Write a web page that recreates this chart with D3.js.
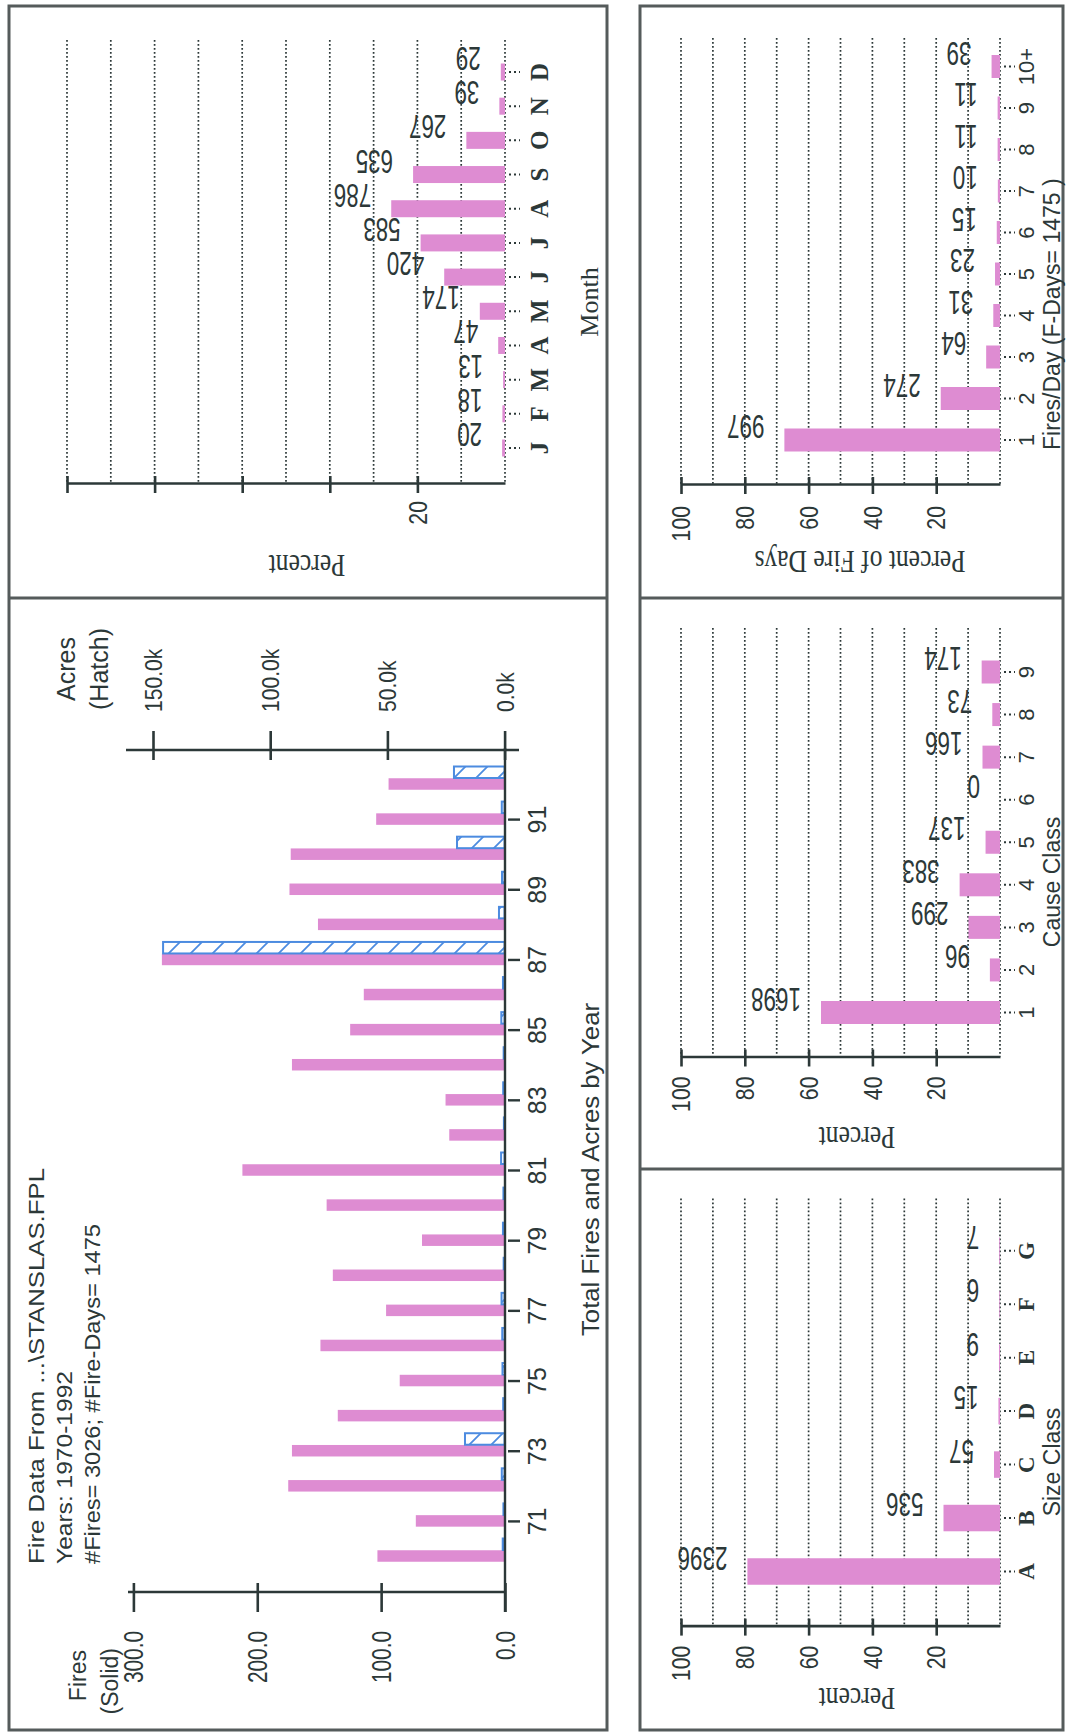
<!DOCTYPE html>
<html>
<head>
<meta charset="utf-8">
<script src="https://cdn.jsdelivr.net/npm/d3@7"></script>
<style>
  html, body { margin: 0; padding: 0; background: #ffffff; }
  svg { display: block; }
</style>
</head>
<body>
<svg id="chart" width="1066" height="1735"></svg>
<script>
// ---------------- DATA ----------------
const years      = [1970,1971,1972,1973,1974,1975,1976,1977,1978,1979,1980,1981,1982,1983,1984,1985,1986,1987,1988,1989,1990,1991,1992];
const firesByYear = [103,72,175,172,135,85,149,96,139,67,144,212,45,48,172,125,114,277,151,174,173,104,94];
const acresByYearK = [0.8,0.5,1.2,16.9,0.6,0.9,1.0,1.3,0.4,0.7,0.5,1.5,0.3,0.6,0.4,1.4,0.7,145.7,2.4,1.1,20.3,1.2,21.6];
const yearTickValues = [1971,1973,1975,1977,1979,1981,1983,1985,1987,1989,1991];
const yearTickLabels = ["71","73","75","77","79","81","83","85","87","89","91"];
const fireAxisTicks  = [0,100,200,300];
const acresAxisTicks = [0,50,100,150];

const monthLabels = ["J","F","M","A","M","J","J","A","S","O","N","D"];
const monthCounts = [20,18,13,47,174,420,583,786,635,267,39,29];

const fireDayLabels = ["1","2","3","4","5","6","7","8","9","10+"];
const fireDayCounts = [997,274,64,31,23,15,10,11,11,39];

const causeLabels = ["1","2","3","4","5","6","7","8","9"];
const causeCounts = [1698,96,299,383,137,0,166,73,174];

const sizeLabels = ["A","B","C","D","E","F","G"];
const sizeCounts = [2396,536,57,15,9,6,7];

const totalFires = 3026;
const totalFireDays = 1475;
const pctTicks = [20,40,60,80,100];
const pctGrid  = [0,10,20,30,40,50,60,70,80,90,100];

// ---------------- STYLE ----------------
const INK = "#2c3838", PINK = "#de8cd2", BLUE = "#4c8be0", BORDER = "#555b5b";
const SANS = "'Liberation Sans', Arial, sans-serif";
const SERIF = "'Liberation Serif', 'Times New Roman', serif";

const svg = d3.select("#chart");

// hatch pattern for acres bars
const defs = svg.append("defs");
defs.append("pattern").attr("id","hatch").attr("patternUnits","userSpaceOnUse")
  .attr("width",22).attr("height",22)
  .append("path").attr("d","M0,22 L22,0 M-3,3 L3,-3 M19,25 L25,19")
  .attr("stroke",BLUE).attr("stroke-width",1.8).attr("fill","none");

// ---------------- PANEL FRAMES ----------------
const frames = svg.append("g").attr("fill","none").attr("stroke",BORDER).attr("stroke-width",3);
frames.append("rect").attr("x",9).attr("y",6).attr("width",598).attr("height",1724);
frames.append("line").attr("x1",9).attr("x2",607).attr("y1",598).attr("y2",598);
frames.append("rect").attr("x",640).attr("y",6).attr("width",423).attr("height",1724);
frames.append("line").attr("x1",640).attr("x2",1063).attr("y1",598).attr("y2",598);
frames.append("line").attr("x1",640).attr("x2",1063).attr("y1",1169).attr("y2",1169);

// ---------------- PERCENT PANELS ----------------
function pctPanel(cfg){
  const x = d3.scaleLinear().domain([0,100]).range([cfg.x0, cfg.x100]);
  const y = d3.scalePoint().domain(d3.range(cfg.labels.length)).range([cfg.firstC, cfg.lastC]);
  const pct = d => d / cfg.total * 100;
  const g = svg.append("g");

  // dotted grid
  g.append("g").selectAll("line").data(pctGrid).join("line")
    .attr("x1",d=>x(d)).attr("x2",d=>x(d))
    .attr("y1",cfg.gridTop).attr("y2",cfg.axisY)
    .attr("stroke",INK).attr("stroke-width",1.7).attr("stroke-dasharray","1.7,2.3");

  // bars
  g.append("g").selectAll("rect").data(cfg.counts).join("rect")
    .attr("x",d=>x(pct(d))).attr("width",d=>Math.max(0, cfg.x0 - x(pct(d))))
    .attr("y",(d,i)=>y(i)-cfg.bw/2).attr("height",cfg.bw)
    .attr("fill",PINK);

  // category tick dots
  g.append("g").selectAll("line").data(cfg.counts).join("line")
    .attr("x1",cfg.x0+4).attr("x2",cfg.x0+15)
    .attr("y1",(d,i)=>y(i)).attr("y2",(d,i)=>y(i))
    .attr("stroke",INK).attr("stroke-width",2).attr("stroke-dasharray","2,3");

  // category labels
  g.append("g").selectAll("text").data(cfg.labels).join("text")
    .attr("transform",(d,i)=>`translate(${cfg.catX},${y(i)}) rotate(-90)`)
    .attr("text-anchor","middle").attr("dy","0.35em")
    .attr("font-family",cfg.catFamily).attr("font-size",cfg.catFont).attr("font-weight",cfg.catWeight)
    .attr("fill",INK).text(d=>d);

  // value labels (upside down)
  g.append("g").selectAll("text").data(cfg.counts).join("text")
    .attr("transform",(d,i)=>`translate(${x(pct(d))-20},${y(i)-25}) rotate(180) scale(0.68,1)`)
    .attr("text-anchor","start")
    .attr("font-family",SANS).attr("font-size",33)
    .attr("fill",INK).text(d=>d);

  // percent axis
  const axis = d3.axisBottom(x).tickValues(pctTicks).tickSizeInner(10).tickSizeOuter(0)
    .tickFormat(cfg.tickFmt);
  const ag = g.append("g").attr("transform",`translate(0,${cfg.axisY})`).call(axis);
  ag.attr("font-family",SANS).attr("font-size",25);
  ag.select(".domain").attr("stroke",INK).attr("stroke-width",2.6);
  ag.selectAll(".tick line").attr("y1",-7).attr("y2",10).attr("stroke",INK).attr("stroke-width",2.6);
  ag.selectAll(".tick text")
    .attr("x",0).attr("y",0).attr("dy","0.35em")
    .attr("transform",`translate(0,${cfg.tickLabelGap}) rotate(-90) scale(0.85,1)`)
    .attr("text-anchor","end").attr("fill",INK);

  // value axis title (upside down)
  g.append("text")
    .attr("transform",`translate(${cfg.vTitleX},${cfg.axisY + cfg.vTitleGap}) rotate(180) scale(0.8,1)`)
    .attr("text-anchor","middle")
    .attr("font-family",SERIF).attr("font-size",32).attr("fill",INK)
    .text(cfg.vTitle);

  // category axis title
  g.append("text")
    .attr("transform",`translate(${cfg.cTitleX},${cfg.cTitleY}) rotate(-90)`)
    .attr("text-anchor",cfg.cTitleAnchor).attr("dy",cfg.cTitleDy)
    .attr("font-family",cfg.cTitleFamily).attr("font-size",cfg.cTitleFont).attr("fill",INK)
    .text(cfg.cTitle);
}

// Month panel
pctPanel({
  labels: monthLabels, counts: monthCounts, total: totalFires,
  x0: 505, x100: 67, firstC: 448, lastC: 72, bw: 17,
  gridTop: 40, axisY: 483, catX: 539, catFont: 25, catFamily: SERIF, catWeight: "bold",
  tickFmt: d => d === 20 ? "20" : "", tickLabelGap: 18,
  vTitle: "Percent", vTitleX: 307, vTitleGap: 72,
  cTitle: "Month", cTitleX: 589, cTitleY: 302, cTitleAnchor: "middle", cTitleDy: "0.35em",
  cTitleFamily: SERIF, cTitleFont: 26
});

// Fire days panel
pctPanel({
  labels: fireDayLabels, counts: fireDayCounts, total: totalFireDays,
  x0: 1000, x100: 681, firstC: 440, lastC: 66.5, bw: 23,
  gridTop: 38, axisY: 484, catX: 1026, catFont: 22, catFamily: SANS, catWeight: "normal",
  tickFmt: d => String(d), tickLabelGap: 22,
  vTitle: "Percent of Fire Days", vTitleX: 860, vTitleGap: 67,
  cTitle: "Fires/Day (F-Days= 1475 )", cTitleX: 1060, cTitleY: 450, cTitleAnchor: "start", cTitleDy: "0",
  cTitleFamily: SANS, cTitleFont: 23
});

// Cause panel
pctPanel({
  labels: causeLabels, counts: causeCounts, total: totalFires,
  x0: 1000, x100: 681, firstC: 1012.5, lastC: 672, bw: 23,
  gridTop: 628, axisY: 1056.5, catX: 1026, catFont: 22, catFamily: SANS, catWeight: "normal",
  tickFmt: d => String(d), tickLabelGap: 20,
  vTitle: "Percent", vTitleX: 857, vTitleGap: 70,
  cTitle: "Cause Class", cTitleX: 1060, cTitleY: 882, cTitleAnchor: "middle", cTitleDy: "0",
  cTitleFamily: SANS, cTitleFont: 23
});

// Size panel
pctPanel({
  labels: sizeLabels, counts: sizeCounts, total: totalFires,
  x0: 1000, x100: 681, firstC: 1571.5, lastC: 1250.7, bw: 26.5,
  gridTop: 1198.5, axisY: 1625.6, catX: 1026, catFont: 23, catFamily: SERIF, catWeight: "bold",
  tickFmt: d => String(d), tickLabelGap: 20,
  vTitle: "Percent", vTitleX: 857, vTitleGap: 62,
  cTitle: "Size Class", cTitleX: 1060, cTitleY: 1462, cTitleAnchor: "middle", cTitleDy: "0",
  cTitleFamily: SANS, cTitleFont: 23
});

// ---------------- YEAR PANEL ----------------
(function(){
  const fx = d3.scaleLinear().domain([0,300]).range([505,133.4]);
  const ax = d3.scaleLinear().domain([0,150]).range([504.6,153]);
  const yy = d3.scalePoint().domain(years).range([1556,784]);
  const g = svg.append("g");

  // fires bars
  g.append("g").selectAll("rect").data(firesByYear).join("rect")
    .attr("x",d=>fx(d)).attr("width",d=>505-fx(d))
    .attr("y",(d,i)=>yy(years[i])-5.75).attr("height",11.5)
    .attr("fill",PINK);

  // acres bars (hatched)
  g.append("g").selectAll("rect").data(acresByYearK).join("rect")
    .attr("x",d=>ax(d)).attr("width",d=>Math.max(0.5,504.6-ax(d)))
    .attr("y",(d,i)=>yy(years[i])-17.5).attr("height",11.5)
    .attr("fill","url(#hatch)").attr("stroke",BLUE).attr("stroke-width",2);

  // year axis line
  g.append("line").attr("x1",505).attr("x2",505).attr("y1",748).attr("y2",1612)
    .attr("stroke",INK).attr("stroke-width",2.4);

  const yAxis = d3.axisRight(yy).tickValues(yearTickValues).tickSizeInner(14).tickSizeOuter(0)
    .tickFormat(d => yearTickLabels[yearTickValues.indexOf(d)]);
  const yg = g.append("g").attr("transform","translate(505,0)").call(yAxis);
  yg.select(".domain").remove();
  yg.attr("font-family",SANS).attr("font-size",25);
  yg.selectAll(".tick line").attr("x1",3).attr("x2",15).attr("stroke",INK).attr("stroke-width",2.4);
  yg.selectAll(".tick text").attr("x",0).attr("y",0).attr("dy","0.35em")
    .attr("transform","translate(32,0) rotate(-90)")
    .attr("text-anchor","middle").attr("fill",INK);

  // fires axis
  const fAxis = d3.axisBottom(fx).tickValues(fireAxisTicks).tickSizeInner(20).tickSizeOuter(0)
    .tickFormat(d3.format(".1f"));
  const fg = g.append("g").attr("transform","translate(0,1592)").call(fAxis);
  fg.attr("font-family",SANS).attr("font-size",27);
  fg.select(".domain").attr("stroke",INK).attr("stroke-width",2.6).attr("d","M128,0H506");
  fg.selectAll(".tick line").attr("y1",-9).attr("y2",20).attr("stroke",INK).attr("stroke-width",2.6);
  fg.selectAll(".tick text").attr("x",0).attr("y",0).attr("dy","0.35em")
    .attr("transform","translate(0,39) rotate(-90) scale(0.77,1)")
    .attr("text-anchor","end").attr("fill",INK);

  // acres axis
  const aAxis = d3.axisTop(ax).tickValues(acresAxisTicks).tickSizeInner(19).tickSizeOuter(0)
    .tickFormat(d => d3.format(".1f")(d) + "k");
  const ag = g.append("g").attr("transform","translate(0,750)").call(aAxis);
  ag.attr("font-family",SANS).attr("font-size",24);
  ag.select(".domain").attr("stroke",INK).attr("stroke-width",2.6).attr("d","M126,0H519");
  ag.selectAll(".tick line").attr("y1",-19).attr("y2",10).attr("stroke",INK).attr("stroke-width",2.6);
  ag.selectAll(".tick text").attr("x",0).attr("y",0).attr("dy","0.35em")
    .attr("transform","translate(0,-38) rotate(-90) scale(0.88,1)")
    .attr("text-anchor","start").attr("fill",INK);

  // axis titles
  const rot = (x,y) => `translate(${x},${y}) rotate(-90)`;
  g.append("text").attr("transform",rot(66,669)).attr("dy","0.35em").attr("text-anchor","middle")
    .attr("font-family",SANS).attr("font-size",25).attr("fill",INK).text("Acres");
  g.append("text").attr("transform",rot(99,669)).attr("dy","0.35em").attr("text-anchor","middle")
    .attr("font-family",SANS).attr("font-size",25).attr("fill",INK).text("(Hatch)");
  g.append("text").attr("transform",rot(78,1650)).attr("dy","0.35em").attr("text-anchor","end")
    .attr("font-family",SANS).attr("font-size",23).attr("fill",INK).text("Fires");
  g.append("text").attr("transform",rot(110,1648)).attr("dy","0.35em").attr("text-anchor","end")
    .attr("font-family",SANS).attr("font-size",23).attr("fill",INK).text("(Solid)");

  // header lines
  const hdr = [["Fire Data From ...\\STANSLAS.FPL",36,396],["Years: 1970-1992",64,193],["#Fires= 3026; #Fire-Days= 1475",92,340]];
  g.append("g").selectAll("text").data(hdr).join("text")
    .attr("transform",d=>rot(d[1],1564)).attr("dy","0.35em").attr("text-anchor","start")
    .attr("textLength",d=>d[2]).attr("lengthAdjust","spacingAndGlyphs")
    .attr("font-family",SANS).attr("font-size",22).attr("fill",INK).text(d=>d[0]);

  // chart title
  g.append("text").attr("transform",rot(591,1336)).attr("dy","0.35em").attr("text-anchor","start")
    .attr("textLength",333).attr("lengthAdjust","spacingAndGlyphs")
    .attr("font-family",SANS).attr("font-size",23).attr("fill",INK).text("Total Fires and Acres by Year");
})();
</script>
</body>
</html>
